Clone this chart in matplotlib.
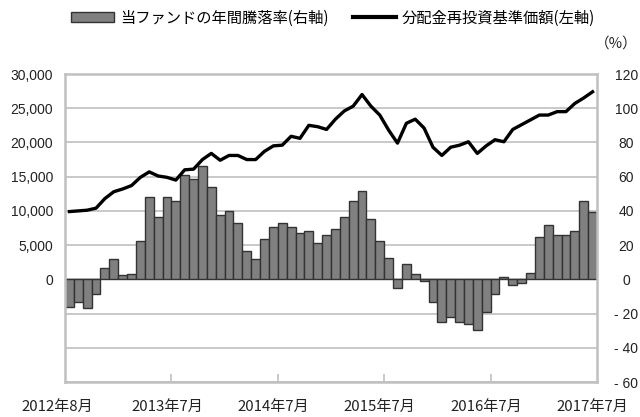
import matplotlib
matplotlib.use("Agg")
import matplotlib.pyplot as plt
import matplotlib.transforms as mtransforms
from matplotlib.patches import Patch
from matplotlib.lines import Line2D

plt.rcParams['font.family'] = ['Liberation Sans', 'Noto Sans CJK JP', 'DejaVu Sans']

# monthly data: 2012年8月 .. 2017年7月 (60 months)
annual_return = [-16.3, -13.2, -16.7, -8.5, 6.8, 11.8, 2.3, 3.3, 22.5, 48.0,
                 36.2, 48.0, 45.7, 61.2, 58.4, 66.0, 53.9, 37.6, 39.8, 32.9,
                 16.6, 11.8, 23.5, 30.4, 33.1, 30.4, 26.8, 28.2, 21.2, 25.7,
                 29.2, 36.2, 45.7, 51.8, 35.1, 22.3, 12.7, -4.9, 9.2, 3.3,
                 -1.2, -13.5, -24.9, -22.2, -24.9, -26.1, -29.8, -19.0, -8.4, 1.4,
                 -3.5, -2.4, 3.5, 24.5, 31.5, 25.7, 25.7, 28.4, 45.7, 39.6]
nav = [9900, 10000, 10100, 10400, 11800, 12800, 13200, 13700, 14900, 15700,
       15100, 14900, 14500, 16000, 16100, 17500, 18400, 17400, 18100, 18100,
       17500, 17500, 18700, 19500, 19600, 20900, 20600, 22500, 22300, 21900,
       23400, 24600, 25300, 27000, 25300, 24000, 21800, 19900, 22800, 23400,
       22100, 19300, 18100, 19300, 19600, 20100, 18400, 19500, 20400, 20100,
       21900, 22600, 23300, 24000, 24000, 24500, 24500, 25700, 26500, 27400]
month_label_pos = [0, 11, 23, 35, 47, 59]
month_labels = ['2012年8月', '2013年7月', '2014年7月', '2015年7月', '2016年7月', '2017年7月']
right_ticks = [-60, -40, -20, 0, 20, 40, 60, 80, 100, 120]
right_labels = ['- 60', '- 40', '- 20', '0', '20', '40', '60', '80', '100', '120']
left_ticks = [0, 5000, 10000, 15000, 20000, 25000, 30000]
left_labels = ['0', '5,000', '10,000', '15,000', '20,000', '25,000', '30,000']
legend_bar = '当ファンドの年間騰落率(右軸)'
legend_line = '分配金再投資基準価額(左軸)'

grid_c = '#c0c0c0'
txt_c = '#222222'
cjk = ['Noto Sans CJK JP', 'DejaVu Sans']
fig = plt.figure(figsize=(6.4, 4.17), dpi=100)
ax = fig.add_axes([65/640, 1-382/417, (597-65)/640, (382-74)/417])
ax2 = ax.twinx()

x = list(range(len(annual_return)))
ax.bar(x, annual_return, width=1.0, color='#808080', edgecolor='#333333', linewidth=1.0, zorder=2)
ax.set_xlim(-0.5, len(x) - 0.5)
ax.set_ylim(-60, 120)
ax.set_axisbelow(True)
ax.yaxis.grid(True, color=grid_c, linewidth=1.2)
ax.set_yticks(right_ticks)
ax.set_yticklabels(right_labels, fontsize=10, color=txt_c)
ax.tick_params(axis='y', left=False, labelleft=False, right=False, labelright=True, length=0, pad=21)
for lab in ax.yaxis.get_ticklabels(which='major'):
    lab.set_horizontalalignment('center')

# x axis: boundary ticks (inward) and centered labels
ax.set_xticks([11.5, 23.5, 35.5, 47.5])
ax.set_xticklabels([])
ax.tick_params(axis='x', which='major', direction='in', length=6, width=1.2, color=grid_c)
ax.set_xticks(month_label_pos, minor=True)
ax.set_xticklabels(month_labels, minor=True, fontsize=10.8, family=cjk, color=txt_c)
ax.tick_params(axis='x', which='minor', length=0, pad=13)
first = ax.xaxis.get_minorticklabels()[0]
first.set_transform(first.get_transform() + mtransforms.ScaledTranslation(-12/100, 0, fig.dpi_scale_trans))

for s in ['left', 'right', 'bottom', 'top']:
    ax.spines[s].set_color(grid_c)
    ax.spines[s].set_linewidth(1.8)

ax2.plot(x, nav, color='black', linewidth=2.4, zorder=3)
ax2.set_ylim(-15000, 30000)
ax2.set_yticks(left_ticks)
ax2.set_yticklabels(left_labels, fontsize=10, color=txt_c)
ax2.tick_params(axis='y', left=False, labelleft=True, right=False, labelright=False, length=0, pad=8.5)
for s in ['left', 'right', 'bottom', 'top']:
    ax2.spines[s].set_visible(False)

fig.text(638/640, 1-44/417, '（%）', ha='right', va='center', fontsize=10.5,
         family=cjk, color=txt_c)

handles = [Patch(facecolor='#808080', edgecolor='#333333', linewidth=1.0),
           Line2D([0], [0], color='black', linewidth=3)]
fig.legend(handles, [legend_bar, legend_line], loc='center', bbox_to_anchor=(333/640, 1-18/417),
           ncol=2, frameon=False, handlelength=2.8, handleheight=0.55, handletextpad=0.4,
           columnspacing=1.6, prop={'family': cjk, 'size': 11})

fig.savefig('out.png', dpi=100)
